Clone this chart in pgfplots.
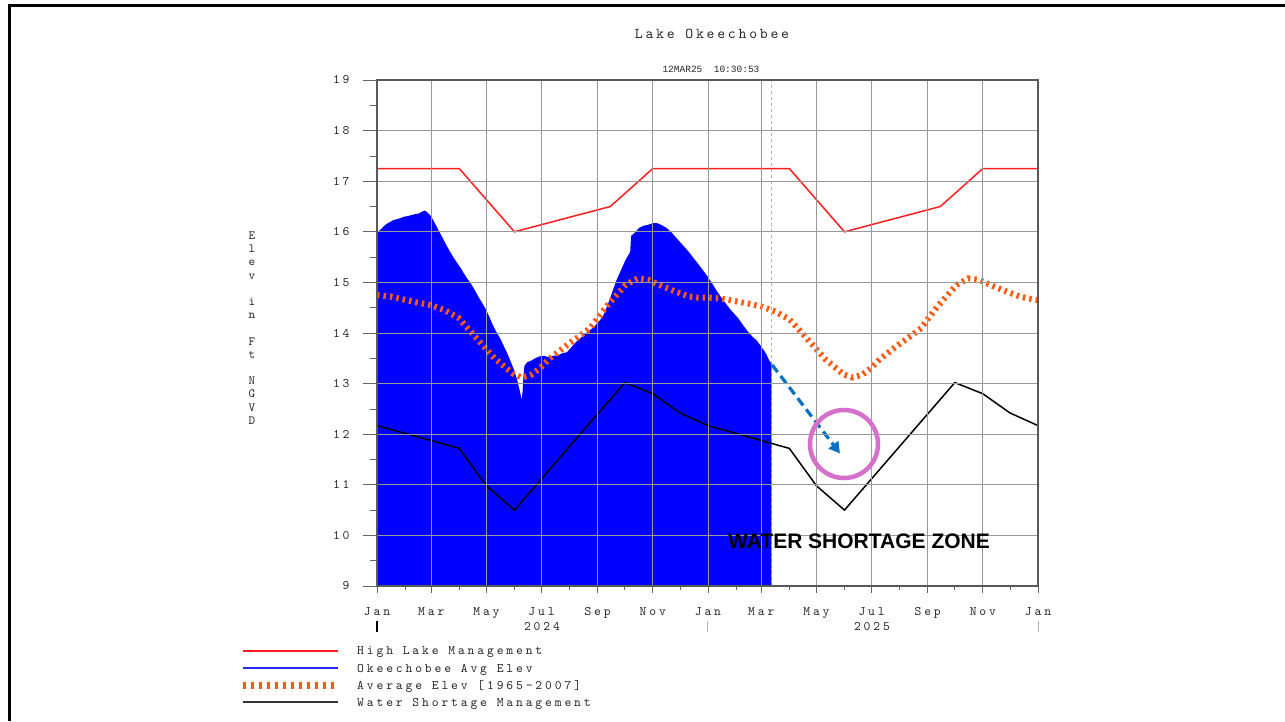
\documentclass[border=0pt]{standalone}
\usepackage{fontspec}
\usepackage{pgfplots}
\pgfplotsset{compat=1.18}
\usetikzlibrary{arrows.meta}
\newfontfamily\mono[LetterSpace=22]{lmmono10-regular.otf}
\newfontfamily\monot[LetterSpace=18.5]{lmmono10-regular.otf}
\newfontfamily\monoplain{Liberation Mono}
\newfontfamily\annot{Liberation Sans}
\newcommand{\ticklab}{\mono\fontsize{13}{15}\selectfont}
\definecolor{hlm}{RGB}{255,30,30}
\definecolor{okblue}{RGB}{0,0,255}
\definecolor{avgor}{RGB}{255,90,15}
\definecolor{arrowblue}{RGB}{0,112,192}
\definecolor{circ}{RGB}{214,112,204}

\pgfplotstableread{
x y
0 9
0 16.00
3 16.03
6 16.08
10 16.15
14 16.19
18 16.23
22 16.25
26 16.27
30 16.30
34 16.31
38 16.33
42 16.35
46 16.36
50 16.40
53 16.42
56 16.38
60 16.30
64 16.17
68 16.03
72 15.90
76 15.76
80 15.63
84 15.51
88 15.40
92 15.30
96 15.18
100 15.07
104 14.97
108 14.85
112 14.72
116 14.60
120 14.48
124 14.33
128 14.16
132 14.02
136 13.90
140 13.75
144 13.60
148 13.43
152 13.25
155 13.07
158 12.85
160 12.68
161 12.85
162 13.15
163 13.35
166 13.42
170 13.45
175 13.50
180 13.54
185 13.55
190 13.52
195 13.55
200 13.56
205 13.60
210 13.62
215 13.72
220 13.82
225 13.90
230 13.98
235 14.05
240 14.12
245 14.22
250 14.33
255 14.55
260 14.80
265 15.05
270 15.25
275 15.45
280 15.60
281 15.92
285 15.98
290 16.08
295 16.12
300 16.14
305 16.17
310 16.17
315 16.13
320 16.08
325 16.00
330 15.90
335 15.80
340 15.70
345 15.60
350 15.48
355 15.37
360 15.25
365 15.13
370 15.00
375 14.85
380 14.72
385 14.60
390 14.48
395 14.38
400 14.28
405 14.15
410 14.03
415 13.93
420 13.85
425 13.73
430 13.60
434 13.45
436 13.40
436 9
}\okee

\pgfplotstableread{
x y
0 14.75
15 14.72
30 14.66
45 14.60
60 14.55
75 14.45
90 14.30
100 14.10
110 13.90
120 13.70
130 13.50
140 13.35
150 13.20
160 13.12
170 13.17
180 13.30
190 13.48
200 13.62
213 13.80
225 13.95
236 14.10
245 14.32
255 14.55
265 14.75
275 14.95
288 15.08
300 15.05
315 14.93
330 14.82
345 14.72
355 14.70
366 14.70
381 14.68
396 14.63
411 14.58
426 14.52
441 14.42
456 14.27
466 14.08
476 13.88
486 13.68
496 13.48
506 13.33
516 13.18
526 13.12
536 13.17
546 13.30
556 13.48
566 13.62
579 13.80
591 13.95
602 14.10
611 14.32
621 14.55
631 14.75
641 14.95
654 15.08
666 15.05
681 14.93
696 14.82
711 14.72
721 14.68
731 14.65
}\avgelev

\pgfplotstableread{
x y
0 17.25
91 17.25
152 16.00
258 16.50
305 17.25
456 17.25
517 16.00
623 16.50
670 17.25
731 17.25
}\highlake

\pgfplotstableread{
x y
0 12.17
91 11.72
121 10.98
152 10.50
274 13.02
305 12.80
335 12.42
366 12.17
456 11.72
486 10.98
517 10.50
639 13.02
670 12.80
700 12.42
731 12.17
}\shortage

\begin{document}
\begin{tikzpicture}
\useasboundingbox (0pt,0pt) rectangle (1285pt,-721pt);
\draw[line width=3pt] (9pt,-721pt) -- (9pt,-5.5pt) -- (1285pt,-5.5pt);

\begin{axis}[
  axis on top,
  at={(377pt,-586pt)}, anchor=south west,
  width=661pt, height=506pt, scale only axis,
  xmin=0, xmax=731, ymin=9, ymax=19,
  xtick={0,60,121,182,244,305,366,425,486,547,609,670,731},
  xticklabels={Jan,Mar,May,Jul,Sep,Nov,Jan,Mar,May,Jul,Sep,Nov,Jan},
  minor xtick={31,91,152,213,274,335,397,456,517,578,639,700},
  ytick={9,10,11,12,13,14,15,16,17,18,19},
  yticklabels={9,10,11,12,13,14,15,16,17,18,19},
  minor ytick={9.5,10.5,11.5,12.5,13.5,14.5,15.5,16.5,17.5,18.5},
  xtick pos=bottom, ytick pos=left, tick align=outside,
  xtick style={black!60, line width=0.8pt, /pgfplots/major tick length=7pt, /pgfplots/minor tick length=4pt},
  ytick style={black!60, line width=0.8pt, /pgfplots/major tick length=14pt, /pgfplots/minor tick length=7pt},
  grid=major,
  major grid style={black!40, line width=0.8pt},
  axis line style={black!65, line width=1.3pt},
  xticklabel style={font=\ticklab, text=black!85, anchor=north, inner sep=0pt, yshift=-17pt},
  yticklabel style={font=\ticklab, text=black!85, anchor=east, inner sep=0pt, xshift=-23pt},
]
\addplot[black!30, line width=0.8pt, dash pattern=on 3pt off 3pt] coordinates {(436,9) (436,19)};
\addplot[fill=okblue, draw=none] table[x=x,y=y] {\okee};
\addplot[hlm, line width=1.5pt] table[x=x,y=y] {\highlake};
\addplot[avgor, line width=6pt, dash pattern=on 2.5pt off 4pt] table[x=x,y=y] {\avgelev};
\addplot[black, line width=1.5pt] table[x=x,y=y] {\shortage};
\draw[arrowblue, line width=3.2pt, dash pattern=on 9pt off 5pt, -{Triangle[length=11pt,width=12pt]}] (axis cs:437,13.37) -- (axis cs:512,11.62);
\end{axis}

\draw[circ, line width=4.5pt] (844pt,-444pt) circle[radius=34pt];
\node[font=\annot\bfseries\fontsize{21}{24}\selectfont] at (859pt,-541pt) {WATER SHORTAGE ZONE};

\node[font=\monot\fontsize{15}{17}\selectfont, text=black!85] at (712pt,-34pt) {Lake Okeechobee};
\node[font=\monoplain\fontsize{9.5}{11}\selectfont, text=black!85] at (711pt,-69pt) {12MAR25\ \ 10:30:53};

\node[align=center, font=\mono\fontsize{12.5}{13.2}\selectfont, text=black!85] at (252pt,-328pt) {E\\l\\e\\v\\~\\i\\n\\~\\F\\t\\~\\N\\G\\V\\D};

\draw[black, line width=2pt] (377pt,-621pt) -- (377pt,-632pt);
\draw[black!30, line width=1pt] (707pt,-621pt) -- (707pt,-632pt);
\draw[black!30, line width=1pt] (1038pt,-621pt) -- (1038pt,-632pt);
\node[font=\ticklab, text=black!85] at (542pt,-627pt) {2024};
\node[font=\ticklab, text=black!85] at (872pt,-627pt) {2025};

\draw[hlm, line width=1.5pt] (243pt,-651pt) -- (338pt,-651pt);
\draw[okblue!85!white, line width=1.5pt] (243pt,-668pt) -- (338pt,-668pt);
\draw[avgor, line width=7pt, dash pattern=on 3pt off 5pt] (243pt,-685pt) -- (338pt,-685pt);
\draw[black!80, line width=1.5pt] (243pt,-702pt) -- (338pt,-702pt);
\node[font=\ticklab, text=black!85, anchor=west, inner sep=0pt] at (357pt,-652.5pt) {High Lake Management};
\node[font=\ticklab, text=black!85, anchor=west, inner sep=0pt] at (357pt,-669.5pt) {Okeechobee Avg Elev};
\node[font=\ticklab, text=black!85, anchor=west, inner sep=0pt] at (357pt,-686.5pt) {Average Elev [1965-2007]};
\node[font=\ticklab, text=black!85, anchor=west, inner sep=0pt] at (357pt,-703.5pt) {Water Shortage Management};
\end{tikzpicture}
\end{document}
